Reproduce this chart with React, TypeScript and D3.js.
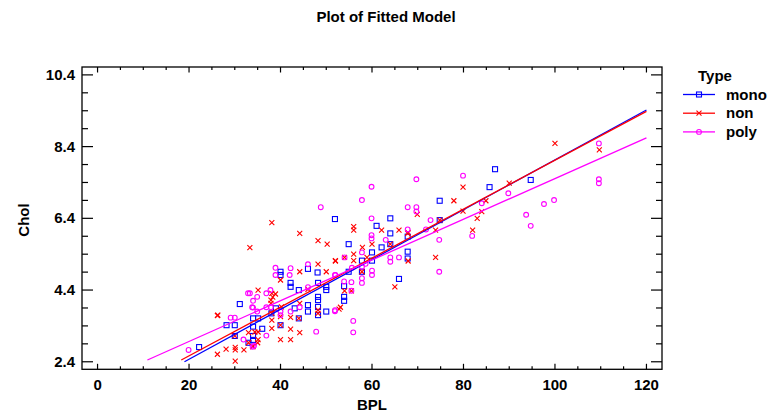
import React from "react";
import * as d3 from "d3";

// ---- data (BPL, Chol) per Type ----
const monoX = [22.2,28.2,30.0,31.1,30.0,34.0,34.0,35.1,33.0,36.0,34.0,34.0,51.9,46.0,48.1,40.0,40.0,42.2,42.2,48.2,50.0,50.0,39.0,43.1,46.0,46.0,48.2,48.2,48.2,48.2,50.0,40.0,44.0,61.0,64.0,64.0,54.9,62.1,64.0,67.8,67.8,67.8,57.8,60.0,60.0,57.8,54.9,53.9,53.9,53.9,65.9,74.8,85.7,74.8,86.9,94.7,38.0,44.0];
const monoY = [2.81,3.42,3.42,4.01,3.12,3.61,3.38,3.61,2.93,3.32,3.01,3.12,6.38,4.99,4.89,4.91,4.82,4.60,4.49,4.60,4.49,4.40,3.89,3.89,3.98,3.80,4.21,4.12,3.93,3.70,3.80,3.42,3.61,6.19,6.40,5.98,5.68,5.59,5.68,5.89,5.47,5.28,5.22,5.45,5.22,4.91,4.91,4.51,4.21,4.10,4.71,6.89,7.27,6.35,7.77,7.47,3.75,4.40];

const nonX = [26.2,26.2,28.1,30.1,30.1,30.1,32.0,35.1,33.0,34.4,35.1,33.0,33.9,35.0,30.0,38.1,44.2,33.3,48.2,50.2,52.0,48.2,40.0,44.2,38.1,38.9,38.3,46.0,50.0,40.2,37.9,37.9,44.2,48.2,48.2,52.8,40.0,40.0,42.2,44.0,38.1,38.1,38.1,40.0,42.2,42.2,44.2,34.0,35.1,56.0,56.0,62.1,65.9,67.8,60.0,64.0,57.9,56.0,54.0,52.0,56.0,58.9,57.8,55.5,54.0,65.0,53.1,79.9,77.9,84.9,69.9,79.9,84.0,74.8,83.0,82.0,73.9,67.9,73.9,67.9,100.0,109.7,90.0,26.3];
const nonY = [2.61,3.69,2.75,2.80,2.73,2.42,2.73,4.40,3.21,3.23,3.23,2.93,2.82,2.93,3.12,6.28,5.98,5.58,5.78,5.68,5.21,5.12,4.68,4.91,4.31,4.29,4.20,4.42,4.91,3.93,4.12,4.03,4.03,3.84,3.75,3.87,3.66,3.42,3.64,3.61,3.75,3.56,3.33,3.02,3.02,3.31,3.21,2.82,3.02,6.17,6.07,6.07,6.07,5.98,5.68,5.68,5.59,5.40,5.31,5.22,5.22,5.31,4.91,4.38,4.38,4.49,3.92,7.27,6.89,6.89,6.51,6.60,6.59,6.35,6.40,6.07,6.07,6.00,5.31,5.21,8.49,8.31,7.38,3.70];

const polyX = [19.9,29.1,30.0,31.9,32.9,34.0,34.9,34.0,34.9,33.9,48.8,46.0,38.9,38.9,42.2,42.0,33.3,36.9,37.8,46.0,51.9,33.8,37.9,36.9,44.2,51.9,40.0,40.0,42.2,36.9,47.8,34.2,59.9,57.8,59.9,67.8,67.8,59.9,59.9,63.0,57.8,54.0,64.0,64.0,65.9,52.0,55.6,57.8,57.8,57.8,60.0,60.0,58.6,53.9,55.5,55.5,51.9,55.9,55.9,69.7,79.9,84.0,69.7,69.7,72.8,81.9,74.7,71.8,74.7,109.6,109.6,109.6,89.8,97.6,99.8,93.7,94.7];
const polyY = [2.73,3.63,3.63,3.02,4.31,4.10,4.21,3.91,3.80,2.82,6.71,5.12,5.02,4.82,5.01,4.82,4.31,4.31,4.40,4.48,4.82,3.92,3.92,3.92,3.92,3.84,3.80,3.70,3.80,3.13,3.24,2.85,7.28,6.91,6.40,6.71,6.09,5.93,5.84,5.80,5.45,5.31,5.31,5.19,5.31,4.82,5.02,5.05,4.73,4.60,4.94,4.82,5.13,4.64,4.62,4.38,3.81,3.54,3.22,7.49,7.59,6.82,6.71,6.59,6.35,5.91,5.80,6.09,4.91,8.49,7.49,7.38,7.10,6.80,6.91,6.50,6.19];

// fitted lines per type
const types = ["mono", "non", "poly"];
const colors = ["#0000ff", "#ff0000", "#ff00ff"];
const intercepts = [1.08, 1.2, 1.83];
const slopes = [0.0695, 0.0682, 0.0568];
const fitStart = [19.0, 18.3, 10.9];
const fitEnd = [120, 120, 120];

const xTicks = [0, 20, 40, 60, 80, 100, 120];
const yTicks = [2.4, 4.4, 6.4, 8.4, 10.4];

const FONT = "'Liberation Sans', Arial, sans-serif";

function Marker({ kind, cx, cy, color }: { kind: number; cx: number; cy: number; color: string }) {
  if (kind === 0) {
    return <rect x={cx - 2.5} y={cy - 2.5} width={5} height={5} fill="none" stroke={color} strokeWidth={1.1} />;
  }
  if (kind === 1) {
    return (
      <path
        d={`M${cx - 2.5},${cy - 2.5}L${cx + 2.5},${cy + 2.5}M${cx - 2.5},${cy + 2.5}L${cx + 2.5},${cy - 2.5}`}
        stroke={color}
        strokeWidth={1.1}
        fill="none"
      />
    );
  }
  return <circle cx={cx} cy={cy} r={2.4} fill="none" stroke={color} strokeWidth={1.1} />;
}

export default function App() {
  const W = 772, H = 414;
  const L = 82, R = 662, T = 67, B = 369.3;
  const x = d3.scaleLinear().domain([-3.4, 123.4]).range([L, R]);
  const y = d3.scaleLinear().domain([2.19, 10.62]).range([B, T]);

  const series = [
    { xs: monoX, ys: monoY },
    { xs: nonX, ys: nonY },
    { xs: polyX, ys: polyY },
  ];

  const xMinor = d3.range(0, 121, 5).filter((v) => !xTicks.includes(v));
  const yMinor = d3.range(2.4, 10.41, 0.5).map((v) => +v.toFixed(2)).filter((v) => !yTicks.some((t) => Math.abs(t - v) < 1e-6));

  return (
    <svg width={W} height={H} style={{ position: "absolute", left: 0, top: 0, background: "#fff" }}>
      <rect x={0} y={0} width={W} height={H} fill="#fff" />
      <text x={386} y={22} textAnchor="middle" fontFamily={FONT} fontWeight="bold" fontSize={15}>
        Plot of Fitted Model
      </text>

      <defs>
        <clipPath id="clip">
          <rect x={L} y={T} width={R - L} height={B - T} />
        </clipPath>
      </defs>

      {/* points */}
      <g clipPath="url(#clip)">
        {series.map((s, i) =>
          s.xs.map((v, j) => (
            <Marker key={`${i}-${j}`} kind={i} cx={x(v)} cy={y(s.ys[j])} color={colors[i]} />
          ))
        )}
        {/* fitted lines */}
        {types.map((t, i) => {
          const xs = [fitStart[i], fitEnd[i]];
          const gen = d3
            .line<number>()
            .x((d) => x(d))
            .y((d) => y(intercepts[i] + slopes[i] * d));
          return <path key={t} d={gen(xs) || ""} stroke={colors[i]} strokeWidth={1.3} fill="none" />;
        })}
      </g>

      {/* frame */}
      <rect x={L} y={T} width={R - L} height={B - T} fill="none" stroke="#000" strokeWidth={1.3} />

      {/* x ticks bottom & top */}
      {xTicks.map((v) => (
        <g key={`xt${v}`}>
          <line x1={x(v)} x2={x(v)} y1={B} y2={B - 5.5} stroke="#000" strokeWidth={1.2} />
          <line x1={x(v)} x2={x(v)} y1={T} y2={T + 5.5} stroke="#000" strokeWidth={1.2} />
          <text x={x(v)} y={390} textAnchor="middle" fontFamily={FONT} fontWeight="bold" fontSize={15}>
            {v}
          </text>
        </g>
      ))}
      {xMinor.map((v) => (
        <g key={`xm${v}`}>
          <line x1={x(v)} x2={x(v)} y1={B} y2={B - 3} stroke="#000" strokeWidth={1.2} />
          <line x1={x(v)} x2={x(v)} y1={T} y2={T + 3} stroke="#000" strokeWidth={1.2} />
        </g>
      ))}

      {/* y ticks left & right */}
      {yTicks.map((v) => (
        <g key={`yt${v}`}>
          <line x1={L} x2={L + 11} y1={y(v)} y2={y(v)} stroke="#000" strokeWidth={1.2} />
          <line x1={R} x2={R - 11} y1={y(v)} y2={y(v)} stroke="#000" strokeWidth={1.2} />
          <text x={75} y={y(v) + 5} textAnchor="end" fontFamily={FONT} fontWeight="bold" fontSize={15}>
            {v.toFixed(1)}
          </text>
        </g>
      ))}
      {yMinor.map((v) => (
        <g key={`ym${v}`}>
          <line x1={L} x2={L + 6} y1={y(v)} y2={y(v)} stroke="#000" strokeWidth={1.2} />
          <line x1={R} x2={R - 6} y1={y(v)} y2={y(v)} stroke="#000" strokeWidth={1.2} />
        </g>
      ))}

      {/* axis titles */}
      <text x={372} y={410} textAnchor="middle" fontFamily={FONT} fontWeight="bold" fontSize={15}>
        BPL
      </text>
      <text
        transform="translate(29,220) rotate(-90)"
        textAnchor="middle"
        fontFamily={FONT}
        fontWeight="bold"
        fontSize={15}
      >
        Chol
      </text>

      {/* legend */}
      <text x={698} y={81} fontFamily={FONT} fontWeight="bold" fontSize={15}>
        Type
      </text>
      {types.map((t, i) => {
        const ly = 94.5 + i * 18.7;
        return (
          <g key={`lg${t}`}>
            <line x1={683} x2={715} y1={ly} y2={ly} stroke={colors[i]} strokeWidth={1.3} />
            <Marker kind={i} cx={699} cy={ly} color={colors[i]} />
            <text x={726} y={ly + 5} fontFamily={FONT} fontWeight="bold" fontSize={15}>
              {t}
            </text>
          </g>
        );
      })}
    </svg>
  );
}
